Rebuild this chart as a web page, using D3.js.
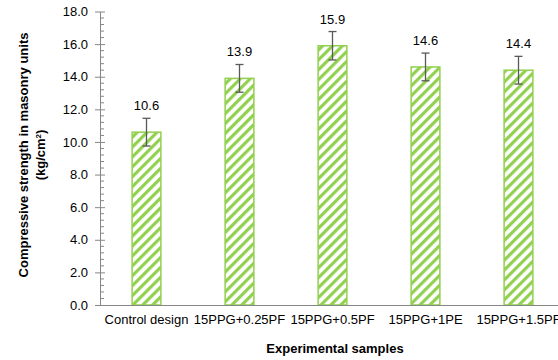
<!DOCTYPE html>
<html>
<head>
<meta charset="utf-8">
<script src="https://cdn.jsdelivr.net/npm/d3@7"></script>
<style>
  html, body { margin: 0; padding: 0; background: #fff; }
  svg { display: block; font-family: "Liberation Sans", Arial, sans-serif; }
</style>
</head>
<body>
<svg id="chart" width="558" height="360"></svg>
<script>
// Compressive strength of masonry units per mix
const categories = ["Control design", "15PPG+0.25PF", "15PPG+0.5PF", "15PPG+1PE", "15PPG+1.5PF"];
const strength = [10.6, 13.9, 15.9, 14.6, 14.4];
const errors = [0.85, 0.85, 0.87, 0.85, 0.85];
const yTicks = [0, 2, 4, 6, 8, 10, 12, 14, 16, 18];

const svg = d3.select("#chart");
const plotLeft = 100, plotTop = 11.5, plotBottom = 305, bandStep = 93;
const fontFamily = "Liberation Sans, Arial, sans-serif";

const x = d3.scaleBand()
  .domain(categories)
  .range([plotLeft, plotLeft + bandStep * categories.length])
  .paddingInner(0.68)
  .paddingOuter(0.34);

const y = d3.scaleLinear().domain([0, 18]).range([plotBottom, plotTop]);

// Diagonal hatch fill
const defs = svg.append("defs");
const pat = defs.append("pattern")
  .attr("id", "hatch")
  .attr("patternUnits", "userSpaceOnUse")
  .attr("width", 7).attr("height", 7)
  .attr("patternTransform", "rotate(45)");
pat.append("rect").attr("width", 7).attr("height", 7).attr("fill", "#fff");
pat.append("rect").attr("width", 3.2).attr("height", 7).attr("fill", "#92D050");

// Bars
svg.append("g").selectAll("rect")
  .data(categories)
  .join("rect")
  .attr("x", d => x(d) + 0.5)
  .attr("y", (d, i) => y(strength[i]))
  .attr("width", x.bandwidth() - 1)
  .attr("height", (d, i) => y(0) - y(strength[i]))
  .attr("fill", "url(#hatch)")
  .attr("stroke", "#92D050")
  .attr("stroke-width", 1.5);

// Error bars
const eg = svg.append("g").attr("stroke", "#595959").attr("stroke-width", 1.3);
categories.forEach((c, i) => {
  const cx = x(c) + x.bandwidth() / 2;
  const y1 = y(strength[i] + errors[i]), y2 = y(strength[i] - errors[i]);
  eg.append("line").attr("x1", cx).attr("x2", cx).attr("y1", y1).attr("y2", y2);
  eg.append("line").attr("x1", cx - 4).attr("x2", cx + 4).attr("y1", y1).attr("y2", y1);
  eg.append("line").attr("x1", cx - 4).attr("x2", cx + 4).attr("y1", y2).attr("y2", y2);
});

// Value labels
svg.append("g").selectAll("text")
  .data(categories)
  .join("text")
  .attr("x", d => x(d) + x.bandwidth() / 2)
  .attr("y", (d, i) => y(strength[i] + errors[i]) - 8)
  .attr("text-anchor", "middle")
  .attr("font-size", 13)
  .attr("fill", "#000")
  .text((d, i) => strength[i].toFixed(1));

// Y axis with minor ticks
const yAxisG = svg.append("g").attr("transform", `translate(${plotLeft},0)`);
const minor = d3.range(0, 18.001, 0.4).filter(v => Math.abs(v / 2 - Math.round(v / 2)) > 1e-6);
yAxisG.append("g").selectAll("line")
  .data(minor)
  .join("line")
  .attr("x1", 0).attr("x2", 4)
  .attr("y1", d => y(d)).attr("y2", d => y(d))
  .attr("stroke", "#868686").attr("stroke-width", 1);
const yAxis = d3.axisLeft(y).tickValues(yTicks).tickFormat(d3.format(".1f")).tickSize(0).tickPadding(12);
yAxisG.call(yAxis);
yAxisG.select(".domain").attr("stroke", "#868686");
yAxisG.selectAll(".tick text").attr("font-size", 13).attr("fill", "#000").attr("font-family", fontFamily);
yAxisG.selectAll(".tick").append("line")
  .attr("x1", -5).attr("x2", 5).attr("y1", 0).attr("y2", 0)
  .attr("stroke", "#868686");

// X axis
const xAxisG = svg.append("g").attr("transform", `translate(0,${plotBottom})`);
xAxisG.call(d3.axisBottom(x).tickSize(0).tickPadding(10));
xAxisG.select(".domain").attr("stroke", "#868686").attr("d", `M${plotLeft},0.5H558`);
xAxisG.selectAll(".tick text").attr("font-size", 13).attr("fill", "#000").attr("font-family", fontFamily);

// Axis titles
svg.append("text")
  .attr("x", 335).attr("y", 353)
  .attr("text-anchor", "middle")
  .attr("font-size", 13).attr("font-weight", "bold")
  .text("Experimental samples");

const yt = svg.append("text")
  .attr("transform", "translate(28,155) rotate(-90)")
  .attr("text-anchor", "middle")
  .attr("font-size", 13).attr("font-weight", "bold");
yt.append("tspan").attr("x", 0).attr("y", 0).text("Compressive strength in masonry units");
const t2 = yt.append("tspan").attr("x", 0).attr("y", 17).text("(kg/cm");
t2.append("tspan").attr("baseline-shift", "super").attr("font-size", 8).text("2");
t2.append("tspan").text(")");
</script>
</body>
</html>
